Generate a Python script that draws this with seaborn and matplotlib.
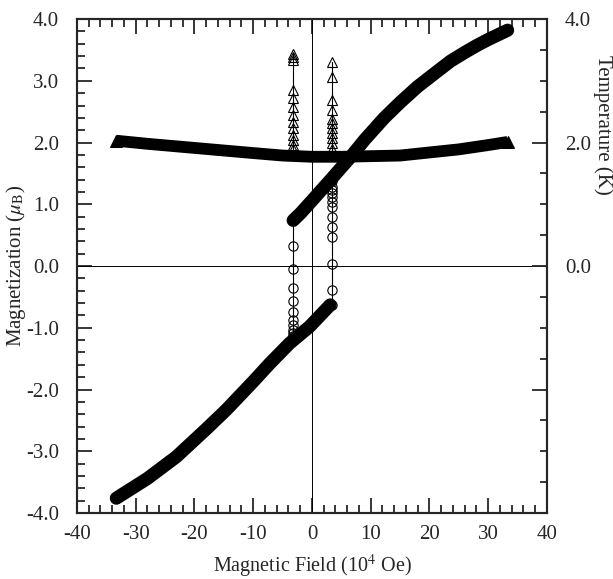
import numpy as np
import matplotlib
matplotlib.use("Agg")
import matplotlib.pyplot as plt
from matplotlib.ticker import MultipleLocator, FixedLocator, FixedFormatter
import seaborn as sns

# magnetization, lower branch (filled circles, dense)
field_lower = [-33.3, -28.0, -23.1, -18.0, -14.6, -10.0, -7.2, -3.8, -0.4, 3.1]
mag_lower = [-3.76, -3.44, -3.09, -2.64, -2.33, -1.87, -1.58, -1.25, -0.98, -0.63]

# magnetization, upper branch
field_upper = [-3.2, -2.0, 0.0, 3.0, 6.6, 9.0, 12.3, 15.0, 17.9, 21.0, 23.6, 26.0, 28.0, 30.0, 33.3]
mag_upper = [0.74, 0.85, 1.06, 1.38, 1.77, 2.05, 2.40, 2.65, 2.90, 3.13, 3.32, 3.46, 3.57, 3.67, 3.82]

# temperature during the sweep (filled triangles)
field_temp = [-33.3, -28.0, -22.0, -16.0, -10.0, -5.0, 0.0, 5.0, 10.0, 15.0, 20.0, 25.0, 30.0, 33.3]
temp = [2.03, 1.98, 1.93, 1.88, 1.83, 1.79, 1.77, 1.77, 1.78, 1.79, 1.84, 1.89, 1.96, 2.01]

# magnetization jumps (open circles)
jump_left_field = -3.25
jump_left_mag = [0.74, 0.32, -0.04, -0.35, -0.56, -0.74, -0.87, -0.96, -1.04, -1.08, -1.14]
jump_right_field = 3.4
jump_right_mag = [-0.63, -0.39, 0.04, 0.47, 0.64, 0.80, 0.96, 1.04, 1.12, 1.18, 1.23, 1.28, 1.37]

# temperature spikes (open triangles)
spike_left_temp = [1.80, 1.90, 1.96, 2.04, 2.12, 2.23, 2.34, 2.45, 2.58, 2.72, 2.85, 3.34, 3.39, 3.44]
spike_right_temp = [1.80, 1.90, 1.99, 2.07, 2.15, 2.23, 2.31, 2.39, 2.53, 2.69, 3.07, 3.31]

x_ticks = [-40, -30, -20, -10, 0, 10, 20, 30, 40]
y_ticks = [-4.0, -3.0, -2.0, -1.0, 0.0, 1.0, 2.0, 3.0, 4.0]
temp_ticks = [-2.0, 0.0, 2.0, 4.0]
temp_labels = ["", "0.0", "2.0", "4.0"]

sns.set_style("ticks")
plt.rcParams["font.family"] = ["Liberation Serif", "DejaVu Serif"]
plt.rcParams["mathtext.fontset"] = "stix"
plt.rcParams["axes.unicode_minus"] = False

fig = plt.figure(figsize=(6.13, 5.79), dpi=100)
ax = fig.add_axes([0.1256, 0.114, 0.7667, 0.853])

# zero lines
ax.axhline(0, color="black", lw=0.7, zorder=1)
ax.axvline(0, color="black", lw=0.7, zorder=1)

open_kw = dict(sort=False, estimator=None, color="black", linewidth=0.8,
               markerfacecolor="none", markeredgecolor="black", markeredgewidth=0.8)

# jumps / spikes, thin lines with open markers
sns.lineplot(x=[jump_left_field] * len(jump_left_mag), y=jump_left_mag, ax=ax,
             marker="o", markersize=6.7, **open_kw)
sns.lineplot(x=[jump_right_field] * len(jump_right_mag), y=jump_right_mag, ax=ax,
             marker="o", markersize=6.7, **open_kw)
sns.lineplot(x=[jump_left_field] * len(spike_left_temp), y=spike_left_temp, ax=ax,
             marker="^", markersize=7, **open_kw)
sns.lineplot(x=[jump_right_field] * len(spike_right_temp), y=spike_right_temp, ax=ax,
             marker="^", markersize=7, **open_kw)

# dense filled bands
sns.lineplot(x=field_lower, y=mag_lower, ax=ax, sort=False, estimator=None,
             color="black", linewidth=9.5, solid_capstyle="round", solid_joinstyle="round")
sns.lineplot(x=field_upper, y=mag_upper, ax=ax, sort=False, estimator=None,
             color="black", linewidth=9.5, solid_capstyle="round", solid_joinstyle="round")
sns.lineplot(x=field_temp, y=temp, ax=ax, sort=False, estimator=None,
             color="black", linewidth=8.5, solid_capstyle="butt", solid_joinstyle="round",
             marker="^", markersize=9, markevery=[0, len(temp) - 1],
             markeredgecolor="black", markerfacecolor="black")

ax.set_xlim(-40, 40)
ax.set_ylim(-4, 4)
ax.xaxis.set_major_locator(FixedLocator(x_ticks))
ax.xaxis.set_minor_locator(MultipleLocator(2))
ax.yaxis.set_major_locator(FixedLocator(y_ticks))
ax.yaxis.set_minor_locator(MultipleLocator(0.2))
ax.set_xticklabels([f"{v:d}" for v in x_ticks])
ax.set_yticklabels([f"{v:.1f}" for v in y_ticks])
ax.tick_params(which="both", direction="in", top=True, right=False,
               width=1.3, labelsize=15)
ax.tick_params(axis="x", pad=9)
ax.tick_params(axis="y", pad=13)
ax.tick_params(which="major", length=11)
ax.tick_params(which="minor", length=6)
for s in ax.spines.values():
    s.set_linewidth(1.5)
    s.set_visible(True)

ax2 = ax.twinx()
ax2.set_ylim(-4, 4)
ax2.yaxis.set_major_locator(FixedLocator(temp_ticks))
ax2.yaxis.set_major_formatter(FixedFormatter(temp_labels))
ax2.yaxis.set_minor_locator(MultipleLocator(0.5))
ax2.tick_params(which="both", direction="in", width=1.3, labelsize=15, pad=13)
ax2.tick_params(which="major", length=11)
ax2.tick_params(which="minor", length=5)
for s in ax2.spines.values():
    s.set_linewidth(1.5)

ax.set_xlabel("Magnetic Field (10$^4$ Oe)", fontsize=14.5)
ax.xaxis.set_label_coords(0.5, -0.08)
ax.set_ylabel(r"Magnetization ($\mu_{\rm B}$)", fontsize=15)
ax.yaxis.set_label_coords(-0.105, 0.5)
ax.text(1.118, 0.785, "Temperature (K)", transform=ax.transAxes, rotation=270,
        ha="center", va="center", fontsize=15)

fig.savefig("out.png", dpi=100)
